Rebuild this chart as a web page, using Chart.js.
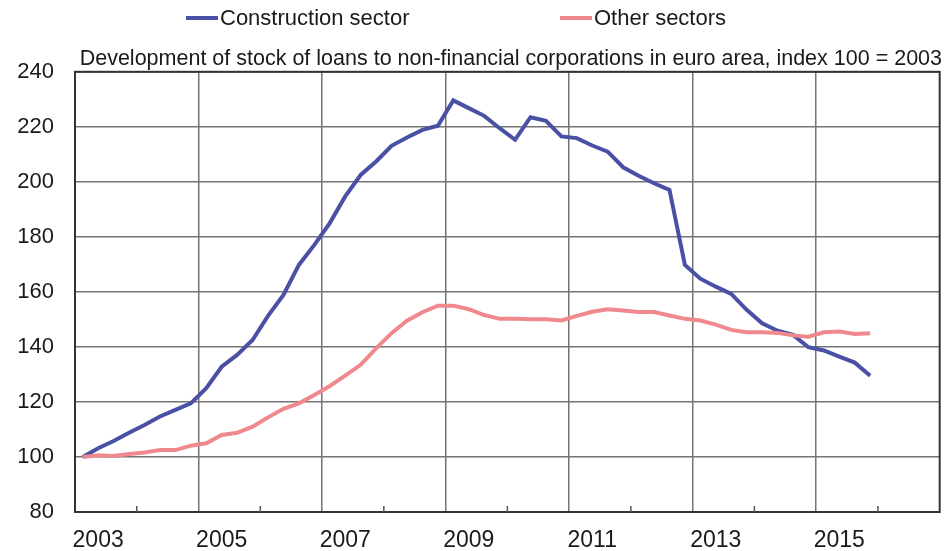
<!DOCTYPE html>
<html>
<head>
<meta charset="utf-8">
<script src="https://cdn.jsdelivr.net/npm/chart.js@4.4.1/dist/chart.umd.min.js"></script>
<style>
  html, body { margin: 0; padding: 0; background: #fff; }
  #wrap { width: 947px; height: 551px; }
</style>
</head>
<body>
<div id="wrap"><canvas id="chart"></canvas></div>
<script>
// quarters on the x axis (axis runs to end of 2016)
const quarters = [
  '2003Q1','2003Q2','2003Q3','2003Q4','2004Q1','2004Q2','2004Q3','2004Q4',
  '2005Q1','2005Q2','2005Q3','2005Q4','2006Q1','2006Q2','2006Q3','2006Q4',
  '2007Q1','2007Q2','2007Q3','2007Q4','2008Q1','2008Q2','2008Q3','2008Q4',
  '2009Q1','2009Q2','2009Q3','2009Q4','2010Q1','2010Q2','2010Q3','2010Q4',
  '2011Q1','2011Q2','2011Q3','2011Q4','2012Q1','2012Q2','2012Q3','2012Q4',
  '2013Q1','2013Q2','2013Q3','2013Q4','2014Q1','2014Q2','2014Q3','2014Q4',
  '2015Q1','2015Q2','2015Q3','2015Q4','2016Q1','2016Q2','2016Q3','2016Q4'
];

const construction = [
  100.0, 103.2, 105.8, 108.8, 111.6, 114.7, 117.1, 119.5,
  125.0, 132.8, 137.1, 142.5, 151.3, 158.9, 169.8, 177.1,
  185.0, 194.7, 202.5, 207.4, 213.1, 216.1, 218.9, 220.4,
  229.6, 226.8, 224.0, 219.5, 215.3, 223.5, 222.2, 216.5,
  215.9, 213.2, 211.0, 205.3, 202.2, 199.5, 197.1, 169.8,
  164.8, 161.9, 159.3, 153.5, 148.6, 145.9, 144.4, 139.9,
  138.7, 136.5, 134.3, 129.5
];

const otherSectors = [
  100.0, 100.6, 100.4, 101.1, 101.6, 102.5, 102.5, 104.1,
  105.0, 108.0, 108.8, 111.0, 114.4, 117.5, 119.5, 122.5,
  125.8, 129.6, 133.5, 139.5, 145.0, 149.5, 152.6, 155.0,
  155.0, 153.7, 151.6, 150.2, 150.2, 150.1, 150.1, 149.6,
  151.3, 152.8, 153.7, 153.2, 152.7, 152.7, 151.4, 150.2,
  149.6, 148.1, 146.2, 145.3, 145.3, 145.1, 144.2, 143.7,
  145.3, 145.6, 144.7, 145.0
];

const seriesNames = ['Construction sector', 'Other sectors'];
const titleText = 'Development of stock of loans to non-financial corporations in euro area, index 100 = 2003';

const BLUE = '#4a50a4';
const PINK = '#f0898d';
const GRID = '#747474';
const TEXT = '#1a1a1a';
const FONT = "'Liberation Sans', Arial, sans-serif";

// frame + small year ticks on the bottom axis
const framePlugin = {
  id: 'frame',
  beforeDatasetsDraw(chart) {
    const { ctx, chartArea: a, scales } = chart;
    ctx.save();
    ctx.strokeStyle = '#333';
    ctx.lineWidth = 2;
    ctx.strokeRect(a.left, a.top, a.right - a.left, a.bottom - a.top);
    ctx.lineWidth = 1.5;
    ctx.strokeStyle = '#555';
    for (let i = 4; i < quarters.length; i += 8) {
      const x = scales.x.getPixelForValue(i - 0.5);
      ctx.beginPath();
      ctx.moveTo(x, a.bottom);
      ctx.lineTo(x, a.bottom - 6);
      ctx.stroke();
    }
    ctx.restore();
  }
};

// legend row at the top
const legendPlugin = {
  id: 'topLegend',
  afterDraw(chart, args, opts) {
    const { ctx } = chart;
    ctx.save();
    ctx.font = '22px ' + FONT;
    ctx.textBaseline = 'middle';
    chart.data.datasets.forEach((ds, k) => {
      const x = opts.xs[k];
      ctx.strokeStyle = ds.borderColor;
      ctx.lineWidth = 4;
      ctx.beginPath();
      ctx.moveTo(x, opts.y);
      ctx.lineTo(x + 32, opts.y);
      ctx.stroke();
      ctx.fillStyle = TEXT;
      ctx.fillText(ds.label, x + 34, opts.y + 1);
    });
    ctx.restore();
  }
};

const ctx = document.getElementById('chart').getContext('2d');
new Chart(ctx, {
  type: 'line',
  data: {
    labels: quarters,
    datasets: [
      {
        label: seriesNames[0],
        data: construction,
        borderColor: BLUE,
        borderWidth: 4,
        pointRadius: 0,
        tension: 0,
        order: 2
      },
      {
        label: seriesNames[1],
        data: otherSectors,
        borderColor: PINK,
        borderWidth: 4,
        pointRadius: 0,
        tension: 0,
        order: 1
      }
    ]
  },
  options: {
    responsive: true,
    maintainAspectRatio: false,
    animation: false,
    layout: { padding: { top: 42, left: 0, right: 5, bottom: 0 } },
    plugins: {
      legend: { display: false },
      tooltip: { enabled: false },
      title: {
        display: true,
        text: titleText,
        align: 'end',
        color: TEXT,
        font: { family: FONT, size: 21.5, weight: 'normal', lineHeight: 1.2 },
        padding: { top: 4, bottom: 0 }
      },
      topLegend: { xs: [186, 560], y: 18 }
    },
    scales: {
      x: {
        type: 'category',
        offset: true,
        border: { display: false },
        grid: {
          offset: true,
          drawTicks: false,
          lineWidth: 1.5,
          color: (c) => (c.index % 8 === 0 ? GRID : 'rgba(0,0,0,0)')
        },
        ticks: {
          autoSkip: false,
          maxRotation: 0,
          padding: 15,
          color: TEXT,
          font: { family: FONT, size: 23 },
          callback: function (value) {
            const q = this.getLabelForValue(value);
            const year = parseInt(q.slice(0, 4), 10);
            return q.endsWith('Q2') && year % 2 === 1 && year <= 2015 ? String(year) : '';
          }
        },
        afterFit: (s) => { s.height = 39; }
      },
      y: {
        min: 80,
        max: 240,
        border: { display: false },
        grid: { color: GRID, lineWidth: 1.5, drawTicks: false },
        ticks: {
          stepSize: 20,
          padding: 21,
          color: TEXT,
          font: { family: FONT, size: 22 }
        },
        afterFit: (s) => { s.width = 75; }
      }
    }
  },
  plugins: [framePlugin, legendPlugin]
});
</script>
</body>
</html>
